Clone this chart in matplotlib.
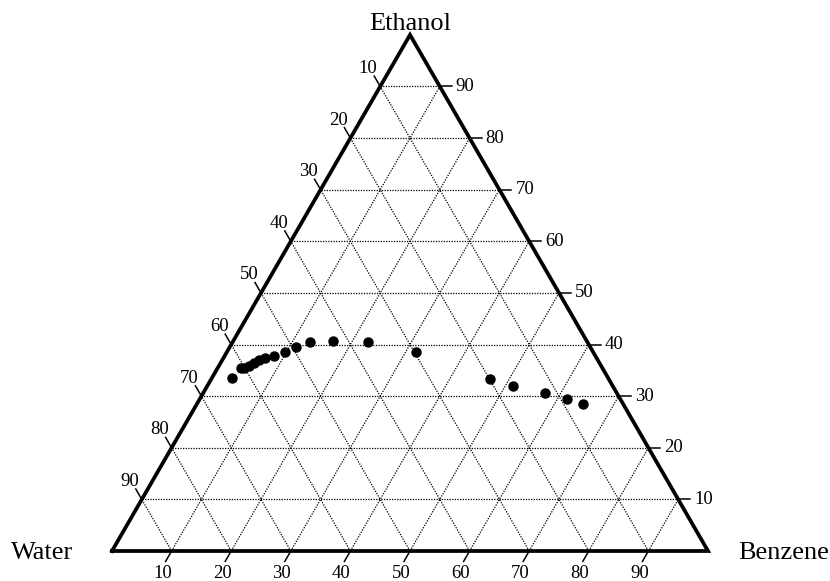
import numpy as np
import matplotlib
matplotlib.use('Agg')
import matplotlib.pyplot as plt

plt.rcParams['font.family'] = ['Liberation Serif', 'DejaVu Serif']

# composition of the measured points, mass %
water = [63.0, 60.7, 60.1, 59.1, 57.9, 56.8, 55.7, 53.9, 51.7, 49.4,
         46.6, 42.6, 36.9, 29.7, 19.9, 16.8, 12.0, 8.8, 6.6]
ethanol = [33.6, 35.4, 35.5, 35.9, 36.5, 37.0, 37.3, 37.8, 38.6, 39.6,
           40.4, 40.6, 40.4, 38.5, 33.3, 32.0, 30.7, 29.4, 28.4]
benzene = [3.4, 3.9, 4.4, 5.0, 5.6, 6.2, 7.0, 8.3, 9.7, 11.0,
           13.0, 16.8, 22.7, 31.8, 46.8, 51.2, 57.3, 61.7, 64.8]

tick_values = [10, 20, 30, 40, 50, 60, 70, 80, 90]
corner_names = ['Water', 'Benzene', 'Ethanol']

H = np.sqrt(3) / 2
PX = 1 / 596.0  # one pixel in data units


def tern(b, e):
    """benzene / ethanol fractions -> cartesian (water at the origin)"""
    b = np.asarray(b, dtype=float)
    e = np.asarray(e, dtype=float)
    return b + e / 2, e * H


fig = plt.figure(figsize=(8.3, 5.81), dpi=100)
ax = fig.add_axes([0, 0, 1, 1])
ax.set_xlim(-112 * PX, (830 - 112) * PX)
ax.set_ylim((551 - 581) * PX, 551 * PX)
ax.axis('off')

grid_kw = dict(color='black', lw=0.9, linestyle=(0, (1, 1.1)), zorder=1)
for t in tick_values:
    f = t / 100
    # constant ethanol
    x, y = tern([0, 1 - f], [f, f])
    ax.plot(x, y, **grid_kw)
    # constant benzene
    x, y = tern([f, f], [0, 1 - f])
    ax.plot(x, y, **grid_kw)
    # constant water
    x, y = tern([1 - f, 0], [0, 1 - f])
    ax.plot(x, y, **grid_kw)

# outline
x, y = tern([0, 1, 0, 0], [0, 0, 1, 0])
ax.plot(x, y, color='black', lw=2.7, solid_joinstyle='miter', zorder=3)

tick_len = 12 * PX
fs = 13.5
for t in tick_values:
    f = t / 100
    # bottom axis (benzene)
    x0, y0 = tern(f, 0)
    ax.plot([x0, x0 - 0.5 * tick_len], [y0, y0 - H * tick_len], color='black', lw=1.1)
    ax.text(x0 - 9 * PX, y0 - 22 * PX, str(t), ha='center', va='center', fontsize=fs)
    # right axis (ethanol)
    x0, y0 = tern(1 - f, f)
    ax.plot([x0, x0 + tick_len], [y0, y0], color='black', lw=1.1)
    ax.text(x0 + 16 * PX, y0, str(t), ha='left', va='center', fontsize=fs)
    # left axis (water)
    x0, y0 = tern(0, 1 - f)
    ax.plot([x0, x0 - 0.5 * tick_len], [y0, y0 + H * tick_len], color='black', lw=1.1)
    ax.text(x0 - 12 * PX, y0 + 18 * PX, str(t), ha='center', va='center', fontsize=fs)

ax.text(-70 * PX, -2 * PX, corner_names[0], ha='center', va='center', fontsize=19)
ax.text(1 + 76 * PX, -2 * PX, corner_names[1], ha='center', va='center', fontsize=19)
ax.text(0.5, H + 5 * PX, corner_names[2], ha='center', va='baseline', fontsize=19)

x, y = tern(np.array(benzene) / 100, np.array(ethanol) / 100)
ax.plot(x, y, 'o', color='black', markersize=6.5, zorder=4)

fig.savefig('out.png', dpi=100)
